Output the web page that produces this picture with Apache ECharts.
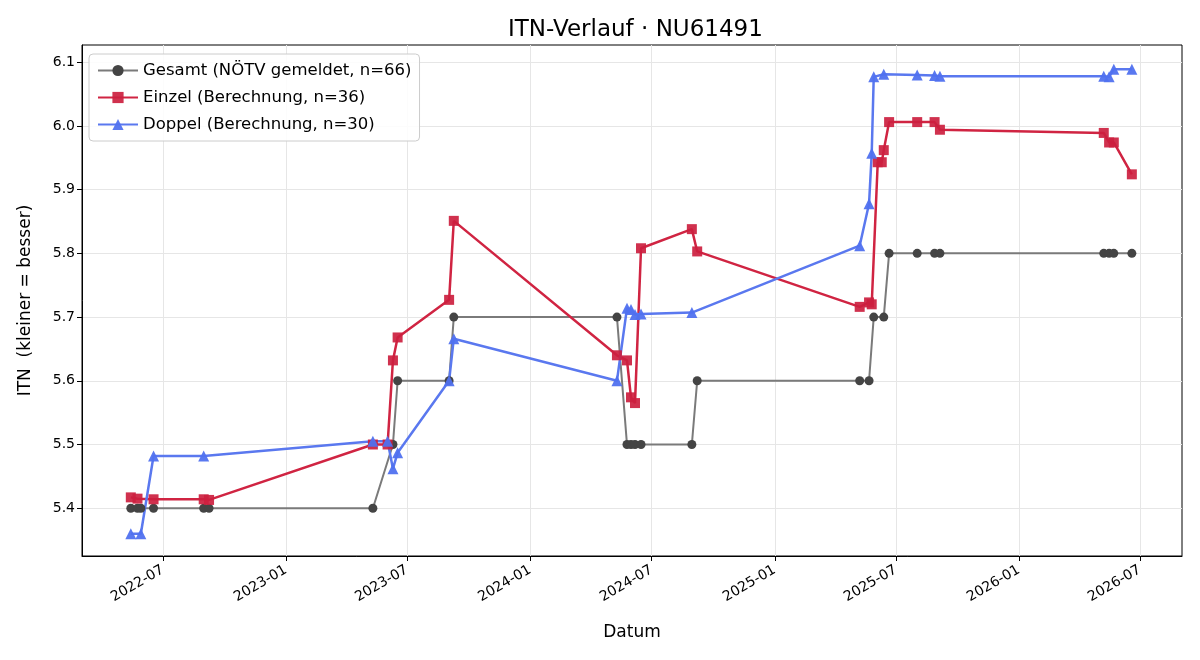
<!DOCTYPE html>
<html>
<head>
<meta charset="utf-8">
<title>ITN-Verlauf</title>
<script src="https://cdn.jsdelivr.net/npm/echarts@6/dist/echarts.min.js"></script>
<style>
	html, body { margin: 0; padding: 0; background: #fff; }
	#chart { width: 1200px; height: 660px; }
</style>
</head>
<body>
<div id="chart"></div>
<script>
// Gesamt (NÖTV gemeldet)
var gesamtDates = ['2022-05-14', '2022-05-24', '2022-05-29', '2022-06-17', '2022-08-31', '2022-09-08',
	'2023-05-11', '2023-06-10', '2023-06-17', '2023-09-02', '2023-09-09',
	'2024-05-10', '2024-05-25', '2024-05-31', '2024-06-06', '2024-06-15', '2024-08-30', '2024-09-07',
	'2025-05-08', '2025-05-22', '2025-05-29', '2025-06-13', '2025-06-21', '2025-08-02', '2025-08-28', '2025-09-05',
	'2026-05-08', '2026-05-16', '2026-05-23', '2026-06-19'];
var gesamtValues = [5.4, 5.4, 5.4, 5.4, 5.4, 5.4,
	5.4, 5.5, 5.6, 5.6, 5.7,
	5.7, 5.5, 5.5, 5.5, 5.5, 5.5, 5.6,
	5.6, 5.6, 5.7, 5.7, 5.8, 5.8, 5.8, 5.8,
	5.8, 5.8, 5.8, 5.8];

// Einzel (Berechnung)
var einzelDates = ['2022-05-14', '2022-05-24', '2022-06-17', '2022-08-31', '2022-09-08',
	'2023-05-11', '2023-06-02', '2023-06-10', '2023-06-17', '2023-09-02', '2023-09-09',
	'2024-05-10', '2024-05-25', '2024-05-31', '2024-06-06', '2024-06-15', '2024-08-30', '2024-09-07',
	'2025-05-08', '2025-05-22', '2025-05-26', '2025-06-04', '2025-06-10', '2025-06-13', '2025-06-21',
	'2025-08-02', '2025-08-28', '2025-09-05',
	'2026-05-08', '2026-05-16', '2026-05-23', '2026-06-19'];
var einzelValues = [5.417, 5.415, 5.414, 5.414, 5.413,
	5.500, 5.500, 5.632, 5.668, 5.727, 5.851,
	5.640, 5.632, 5.574, 5.565, 5.808, 5.838, 5.803,
	5.716, 5.723, 5.720, 5.943, 5.943, 5.962, 6.006,
	6.006, 6.006, 5.994,
	5.989, 5.974, 5.974, 5.924];

// Doppel (Berechnung)
var doppelDates = ['2022-05-14', '2022-05-29', '2022-06-17', '2022-08-31',
	'2023-05-11', '2023-06-02', '2023-06-10', '2023-06-17', '2023-09-02', '2023-09-09',
	'2024-05-10', '2024-05-25', '2024-05-31', '2024-06-06', '2024-06-15', '2024-08-30',
	'2025-05-08', '2025-05-22', '2025-05-26', '2025-05-29', '2025-06-13',
	'2025-08-02', '2025-08-28', '2025-09-05',
	'2026-05-08', '2026-05-16', '2026-05-23', '2026-06-19'];
var doppelValues = [5.360, 5.360, 5.482, 5.482,
	5.505, 5.505, 5.462, 5.487, 5.600, 5.666,
	5.600, 5.714, 5.712, 5.704, 5.705, 5.707,
	5.812, 5.878, 5.957, 6.077, 6.081,
	6.080, 6.079, 6.078,
	6.078, 6.077, 6.089, 6.089];

var xTickDates = ['2022-07-01', '2023-01-01', '2023-07-01', '2024-01-01', '2024-07-01',
	'2025-01-01', '2025-07-01', '2026-01-01', '2026-07-01'];
var yTicks = [5.4, 5.5, 5.6, 5.7, 5.8, 5.9, 6.0, 6.1];

function toTs(s) {
	var p = s.split('-');
	return Date.UTC(+p[0], +p[1] - 1, +p[2]);
}
function pairs(dates, values) {
	var out = [];
	for (var i = 0; i < dates.length; i++) {
		out.push([toTs(dates[i]), values[i]]);
	}
	return out;
}

var FONT = 'DejaVu Sans, Verdana, sans-serif';
var chart = echarts.init(document.getElementById('chart'));
var option = {
	animation: false,
	backgroundColor: '#fff',
	title: {
		// centred over the plot area, not the page
		text: 'ITN-Verlauf · NU61491',
		left: 503,
		top: 14,
		textStyle: { fontFamily: FONT, fontSize: 23, fontWeight: 'normal', color: '#000' }
	},
	legend: {
		orient: 'vertical',
		left: 89,
		top: 54,
		padding: [8, 8, 8, 8],
		itemGap: 10,
		itemWidth: 40,
		itemHeight: 14,
		backgroundColor: 'rgba(255,255,255,0.85)',
		borderColor: '#cccccc',
		borderWidth: 1,
		borderRadius: 4,
		textStyle: { fontFamily: FONT, fontSize: 16.5, color: '#000' }
	},
	grid: {
		left: 82,
		right: 18,
		top: 45,
		bottom: 104,
		show: true,
		borderColor: '#000',
		borderWidth: 1
	},
	xAxis: {
		type: 'value',
		min: toTs('2022-03-02'),
		max: toTs('2026-09-02'),
		name: 'Datum',
		nameLocation: 'middle',
		nameGap: 68,
		nameTextStyle: { fontFamily: FONT, fontSize: 17, color: '#000' },
		axisLine: { show: true, lineStyle: { color: '#000', width: 1 } },
		axisTick: {
			show: true,
			length: 5,
			lineStyle: { color: '#000' },
			customValues: xTickDates.map(toTs)
		},
		axisLabel: {
			rotate: 30,
			margin: 13,
			fontFamily: FONT,
			fontSize: 14,
			color: '#000',
			customValues: xTickDates.map(toTs),
			formatter: function(v) {
				return new Date(v).toISOString().slice(0, 7);
			}
		},
		splitLine: { show: true, lineStyle: { color: '#e6e6e6', width: 1 } }
	},
	yAxis: {
		type: 'value',
		min: 5.325,
		max: 6.127,
		name: 'ITN  (kleiner = besser)',
		nameLocation: 'middle',
		nameGap: 48,
		nameTextStyle: { fontFamily: FONT, fontSize: 17, color: '#000' },
		axisLine: { show: true, lineStyle: { color: '#000', width: 1 } },
		axisTick: {
			show: true,
			length: 5,
			lineStyle: { color: '#000' },
			customValues: yTicks
		},
		axisLabel: {
			fontFamily: FONT,
			fontSize: 14,
			color: '#000',
			margin: 7,
			customValues: yTicks,
			formatter: function(v) { return v.toFixed(1); }
		},
		splitLine: { show: true, lineStyle: { color: '#e6e6e6', width: 1 } }
	},
	series: [{
		name: 'Gesamt (NÖTV gemeldet, n=66)',
		type: 'line',
		symbol: 'circle',
		symbolSize: 9,
		lineStyle: { color: '#7a7a7a', width: 2 },
		itemStyle: { color: '#444444' },
		data: pairs(gesamtDates, gesamtValues)
	}, {
		name: 'Einzel (Berechnung, n=36)',
		type: 'line',
		symbol: 'rect',
		symbolSize: 10,
		lineStyle: { color: '#d02442', width: 2.5 },
		itemStyle: { color: '#cc1f3f', opacity: 0.92 },
		data: pairs(einzelDates, einzelValues)
	}, {
		name: 'Doppel (Berechnung, n=30)',
		type: 'line',
		symbol: 'triangle',
		symbolSize: 11,
		lineStyle: { color: '#5a78ef', width: 2.5 },
		itemStyle: { color: '#5071ef', opacity: 0.95 },
		data: pairs(doppelDates, doppelValues)
	}]
};
chart.setOption(option);
</script>
</body>
</html>
